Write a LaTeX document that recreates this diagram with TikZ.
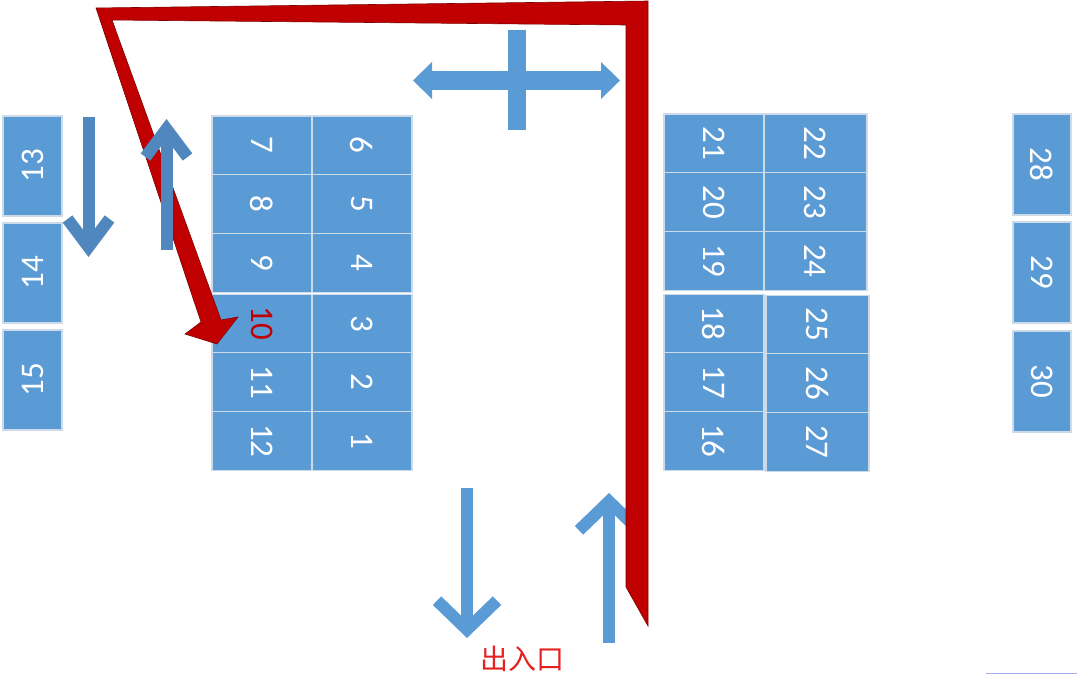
\documentclass[tikz,border=0pt]{standalone}
\usepackage{fontspec}
\newfontfamily\digitfont{Carlito}
\newfontfamily\cjk{Noto Sans CJK SC}
\usetikzlibrary{
  arrows.meta,
  positioning,
}
\definecolor{boxblue}{RGB}{91, 155, 213}
\definecolor{darkblue}{RGB}{79, 135, 190}
\definecolor{routered}{RGB}{192, 0, 0}
\definecolor{cellline}{RGB}{205, 218, 232}
\definecolor{exitred}{RGB}{228, 32, 32}
\tikzstyle{cell} = [
  draw=cellline,
  line width=1.2pt,
  fill=boxblue,
  rectangle,
  minimum width=100,
  minimum height=58.7,
  inner sep=0,
  outer sep=0,
  text=white,
  font=\digitfont\fontsize{33}{33}\selectfont,
]
\tikzstyle{widecell} = [cell, minimum width=103]
\tikzstyle{post} = [cell, minimum width=59, minimum height=100]
\tikzstyle{flow} = [
  -{Straight Barb[length=28pt,width=42pt]},
  line width=12pt,
  darkblue,
]
\tikzstyle{gate} = [
  -{Straight Barb[length=29pt,width=60pt]},
  line width=12pt,
  boxblue,
]
\tikzstyle{route} = [
  fill=routered,
  draw=routered!65!black,
  line width=0.6pt,
  line join=miter,
]
\newcommand{\turnR}[1]{\rotatebox{-90}{#1}}
\newcommand{\turnL}[1]{\rotatebox{90}{#1}}

\begin{document}
\begin{tikzpicture}[x=1pt,y=-1pt,node distance=0pt and 0pt]
      \useasboundingbox (0,0) rectangle (1077,674);

      \node[post,anchor=north west]   (p13)   at (3,116)  {\turnL{13}};
      \node[post]   (p14)   [below=7pt of p13]  {\turnL{14}};
      \node[post]   (p15)   [below=7pt of p14]  {\turnL{15}};

      \node[cell,anchor=north west]   (c7)    at (212,116)    {\turnR{7}};
      \node[cell]   (c8)    [below=of c7]   {\turnR{8}};
      \node[cell]   (c9)    [below=of c8]   {\turnR{9}};
      \node[cell]   (c10)   [below=2pt of c9]   {\turnR{\textcolor{routered}{10}}};
      \node[cell]   (c11)   [below=of c10]  {\turnR{11}};
      \node[cell]   (c12)   [below=of c11]  {\turnR{12}};
      \node[cell]   (c6)    [right=of c7]   {\turnR{6}};
      \node[cell]   (c5)    [right=of c8]   {\turnR{5}};
      \node[cell]   (c4)    [right=of c9]   {\turnR{4}};
      \node[cell]   (c3)    [right=of c10]  {\turnR{3}};
      \node[cell]   (c2)    [right=of c11]  {\turnR{2}};
      \node[cell]   (c1)    [right=of c12]  {\turnR{1}};

      \node[cell,anchor=north west]   (c21)   at (664,114)    {\turnR{21}};
      \node[cell]   (c20)   [below=of c21]  {\turnR{20}};
      \node[cell]   (c19)   [below=of c20]  {\turnR{19}};
      \node[cell]   (c18)   [below=4pt of c19]  {\turnR{18}};
      \node[cell]   (c17)   [below=of c18]  {\turnR{17}};
      \node[cell]   (c16)   [below=of c17]  {\turnR{16}};
      \node[widecell]   (c22)   [right=of c21]  {\turnR{22}};
      \node[widecell]   (c23)   [right=of c20]  {\turnR{23}};
      \node[widecell]   (c24)   [right=of c19]  {\turnR{24}};
      \node[widecell]   (c25)   [right=2pt of c18,yshift=-1pt]  {\turnR{25}};
      \node[widecell]   (c26)   [below=of c25]  {\turnR{26}};
      \node[widecell]   (c27)   [below=of c26]  {\turnR{27}};

      \node[post,minimum width=58,minimum height=101,anchor=north west]   (p28)   at (1013,114)   {\turnR{28}};
      \node[post,minimum width=58,minimum height=101]   (p29)   [below=7pt of p28]  {\turnR{29}};
      \node[post,minimum width=58,minimum height=101]   (p30)   [below=8pt of p29]  {\turnR{30}};

      \draw[boxblue,line width=18pt] (517,30) -- (517,130);
      \draw[boxblue,line width=19pt,{Triangle[length=19pt,width=37pt,line width=0pt]}-{Triangle[length=19pt,width=37pt,line width=0pt]}] (413,80.5) -- (620,80.5);

      \draw[gate] (467,488) -- (467,638);
      \draw[gate] (609,643) -- (609,493);

      \filldraw[route] (648,626) -- (648,1) -- (96,8) -- (201,322) -- (185,334) -- (217,344)
        -- (238,317) -- (221,320) -- (112,20) -- (626,25) -- (626,587) -- cycle;

      \draw[flow] (88.5,117) -- (88.5,257);
      \draw[flow] (166.5,250) -- (166.5,119);

      \node[text=exitred,font=\cjk\fontsize{28}{28}\selectfont] (exit) at (522,659) {出入口};
      \draw[cellline!80!blue,line width=1pt] (986,673) -- (1077,673);
    \end{tikzpicture}
\end{document}
